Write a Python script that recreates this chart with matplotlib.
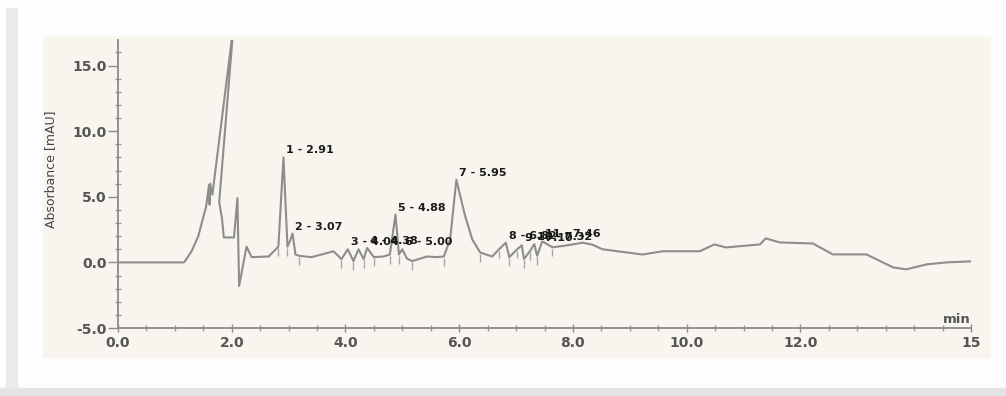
import numpy as np
import matplotlib
matplotlib.use("Agg")
import matplotlib.pyplot as plt
from matplotlib.patches import Rectangle
from matplotlib.ticker import MultipleLocator, FixedLocator, FixedFormatter

# Solvent front region (drawn in recorded order)
front_time = [0.00, 1.16, 1.20, 1.30, 1.41, 1.55, 1.60, 1.61, 1.62, 1.66, 2.03,
              1.78, 1.83, 1.86, 2.04, 2.10, 2.13, 2.26, 2.35, 2.65]
front_abs = [0.0, 0.0, 0.23, 0.9, 1.98, 4.26, 5.9, 4.4, 6.0, 5.17, 18.0,
             4.6, 3.3, 1.9, 1.9, 4.9, -1.8, 1.2, 0.4, 0.45]

# Baseline and peak flanks after the solvent front
base_time = [2.82, 2.98, 3.03, 3.12, 3.19, 3.40, 3.58, 3.79, 3.93, 4.14,
             4.23, 4.32, 4.50, 4.67, 4.78, 4.94, 5.08, 5.17, 5.29, 5.43,
             5.61, 5.73, 5.84, 6.10, 6.23, 6.37, 6.58, 6.70, 6.88, 7.02,
             7.14, 7.25, 7.37, 7.64, 7.90, 8.17, 8.34, 8.52, 9.22, 9.58,
             10.23, 10.49, 10.69, 11.29, 11.39, 11.64, 12.22, 12.57, 13.16,
             13.63, 13.86, 14.22, 14.57, 15.00]
base_abs = [1.2, 1.2, 1.7, 0.6, 0.5, 0.4, 0.6, 0.85, 0.25, 0.1,
            1.0, 0.25, 0.4, 0.45, 0.6, 0.6, 0.3, 0.1, 0.25, 0.45,
            0.4, 0.45, 1.75, 3.6, 1.75, 0.75, 0.45, 1.0, 0.4, 1.0,
            0.25, 0.9, 0.5, 1.15, 1.3, 1.5, 1.35, 1.0, 0.6, 0.85,
            0.85, 1.37, 1.14, 1.37, 1.83, 1.52, 1.44, 0.61, 0.61,
            -0.38, -0.53, -0.15, 0.0, 0.08]

# Integrated peaks: number, retention time [min], apex height [mAU]
peak_ids = [1, 2, 3, 4, 5, 6, 7, 8, 9, 10, 11]
peak_times = [2.91, 3.07, 4.04, 4.38, 4.88, 5.00, 5.95, 6.82, 7.10, 7.32, 7.46]
peak_heights = [8.0, 2.2, 1.0, 1.1, 3.65, 1.0, 6.3, 1.5, 1.3, 1.4, 1.6]

# Peak start/end delimiters
delimiters = [2.82, 2.98, 3.19, 3.93, 4.14, 4.32, 4.50, 4.78, 4.94, 5.17,
              5.73, 6.37, 6.70, 6.88, 7.02, 7.14, 7.25, 7.37, 7.64]

x_ticks = [0, 2, 4, 6, 8, 10, 12, 15]
x_labels = ["0.0", "2.0", "4.0", "6.0", "8.0", "10.0", "12.0", "15"]
y_ticks = [-5, 0, 5, 10, 15]
y_labels = ["-5.0", "0.0", "5.0", "10.0", "15.0"]

W, H = 1006, 396
fig = plt.figure(figsize=(W / 100, H / 100), dpi=100, facecolor="#fdfdfd")

# paper background and frame strips
for (x0, y0, w, h, c) in [(43, 37, 947, 320, "#f7f5ee"),
                          (6, 8, 11, 388, "#ebebeb"),
                          (0, 388, W, 8, "#e4e4e4")]:
    fig.patches.append(Rectangle((x0 / W, 1 - (y0 + h) / H), w / W, h / H,
                                 transform=fig.transFigure, color=c, zorder=-10))

ax = fig.add_axes([118 / W, 1 - 328 / H, (971 - 118) / W, (328 - 40) / H])
ax.set_zorder(5)
ax.set_facecolor("none")

# assemble trace
order = np.argsort(np.array(base_time + peak_times), kind="stable")
tail_t = np.array(base_time + peak_times)[order]
tail_a = np.array(base_abs + peak_heights)[order]
t = np.concatenate([front_time, tail_t])
a = np.concatenate([front_abs, tail_a])

line_col = "#8d8d8d"
ax.plot(t, a, color=line_col, lw=1.5, solid_joinstyle="round", clip_on=True)

# delimiter ticks below the trace
lev = np.interp(delimiters, tail_t, tail_a)
ax.vlines(delimiters, lev - 0.7, lev - 0.1, color="#a5a5a5", lw=1.0)

# peak annotations
for pid, pt, ph in zip(peak_ids, peak_times, peak_heights):
    ax.annotate(f"{pid} - {pt:.2f}", xy=(pt, ph), xytext=(2, 5),
                textcoords="offset points", ha="left", va="center",
                fontsize=8, fontweight="bold", color="#1a1a1a")

ax.set_xlim(0, 15)
ax.set_ylim(-5, 16.95)

for s in ["top", "right"]:
    ax.spines[s].set_visible(False)
for s in ["left", "bottom"]:
    ax.spines[s].set_color("#8a8a8a")
    ax.spines[s].set_linewidth(1.3)

ax.xaxis.set_major_locator(FixedLocator(x_ticks))
ax.xaxis.set_major_formatter(FixedFormatter(x_labels))
ax.xaxis.set_minor_locator(MultipleLocator(0.5))
ax.yaxis.set_major_locator(FixedLocator(y_ticks))
ax.yaxis.set_major_formatter(FixedFormatter(y_labels))
ax.yaxis.set_minor_locator(MultipleLocator(1.0))

ax.tick_params(axis="x", which="major", direction="inout", length=6, width=1,
               color="#8a8a8a", labelsize=10, labelcolor="#555555", pad=3)
ax.tick_params(axis="x", which="minor", direction="inout", length=4, width=1,
               color="#9a9a9a")
ax.tick_params(axis="y", which="major", direction="out", length=7, width=1,
               color="#8a8a8a", labelsize=10, labelcolor="#555555", pad=1)
ax.tick_params(axis="y", which="minor", direction="inout", length=4, width=1,
               color="#9a9a9a")
for lbl in ax.get_xticklabels() + ax.get_yticklabels():
    lbl.set_fontweight("bold")

ax.text(15, -4.85, "min", ha="right", va="bottom", fontsize=9.5,
        fontweight="bold", color="#555555")
ax.set_ylabel("Absorbance [mAU]", fontsize=9, color="#444444")
ax.yaxis.set_label_coords(-0.072, 0.55)

fig.savefig("out.png", dpi=100, facecolor=fig.get_facecolor())
